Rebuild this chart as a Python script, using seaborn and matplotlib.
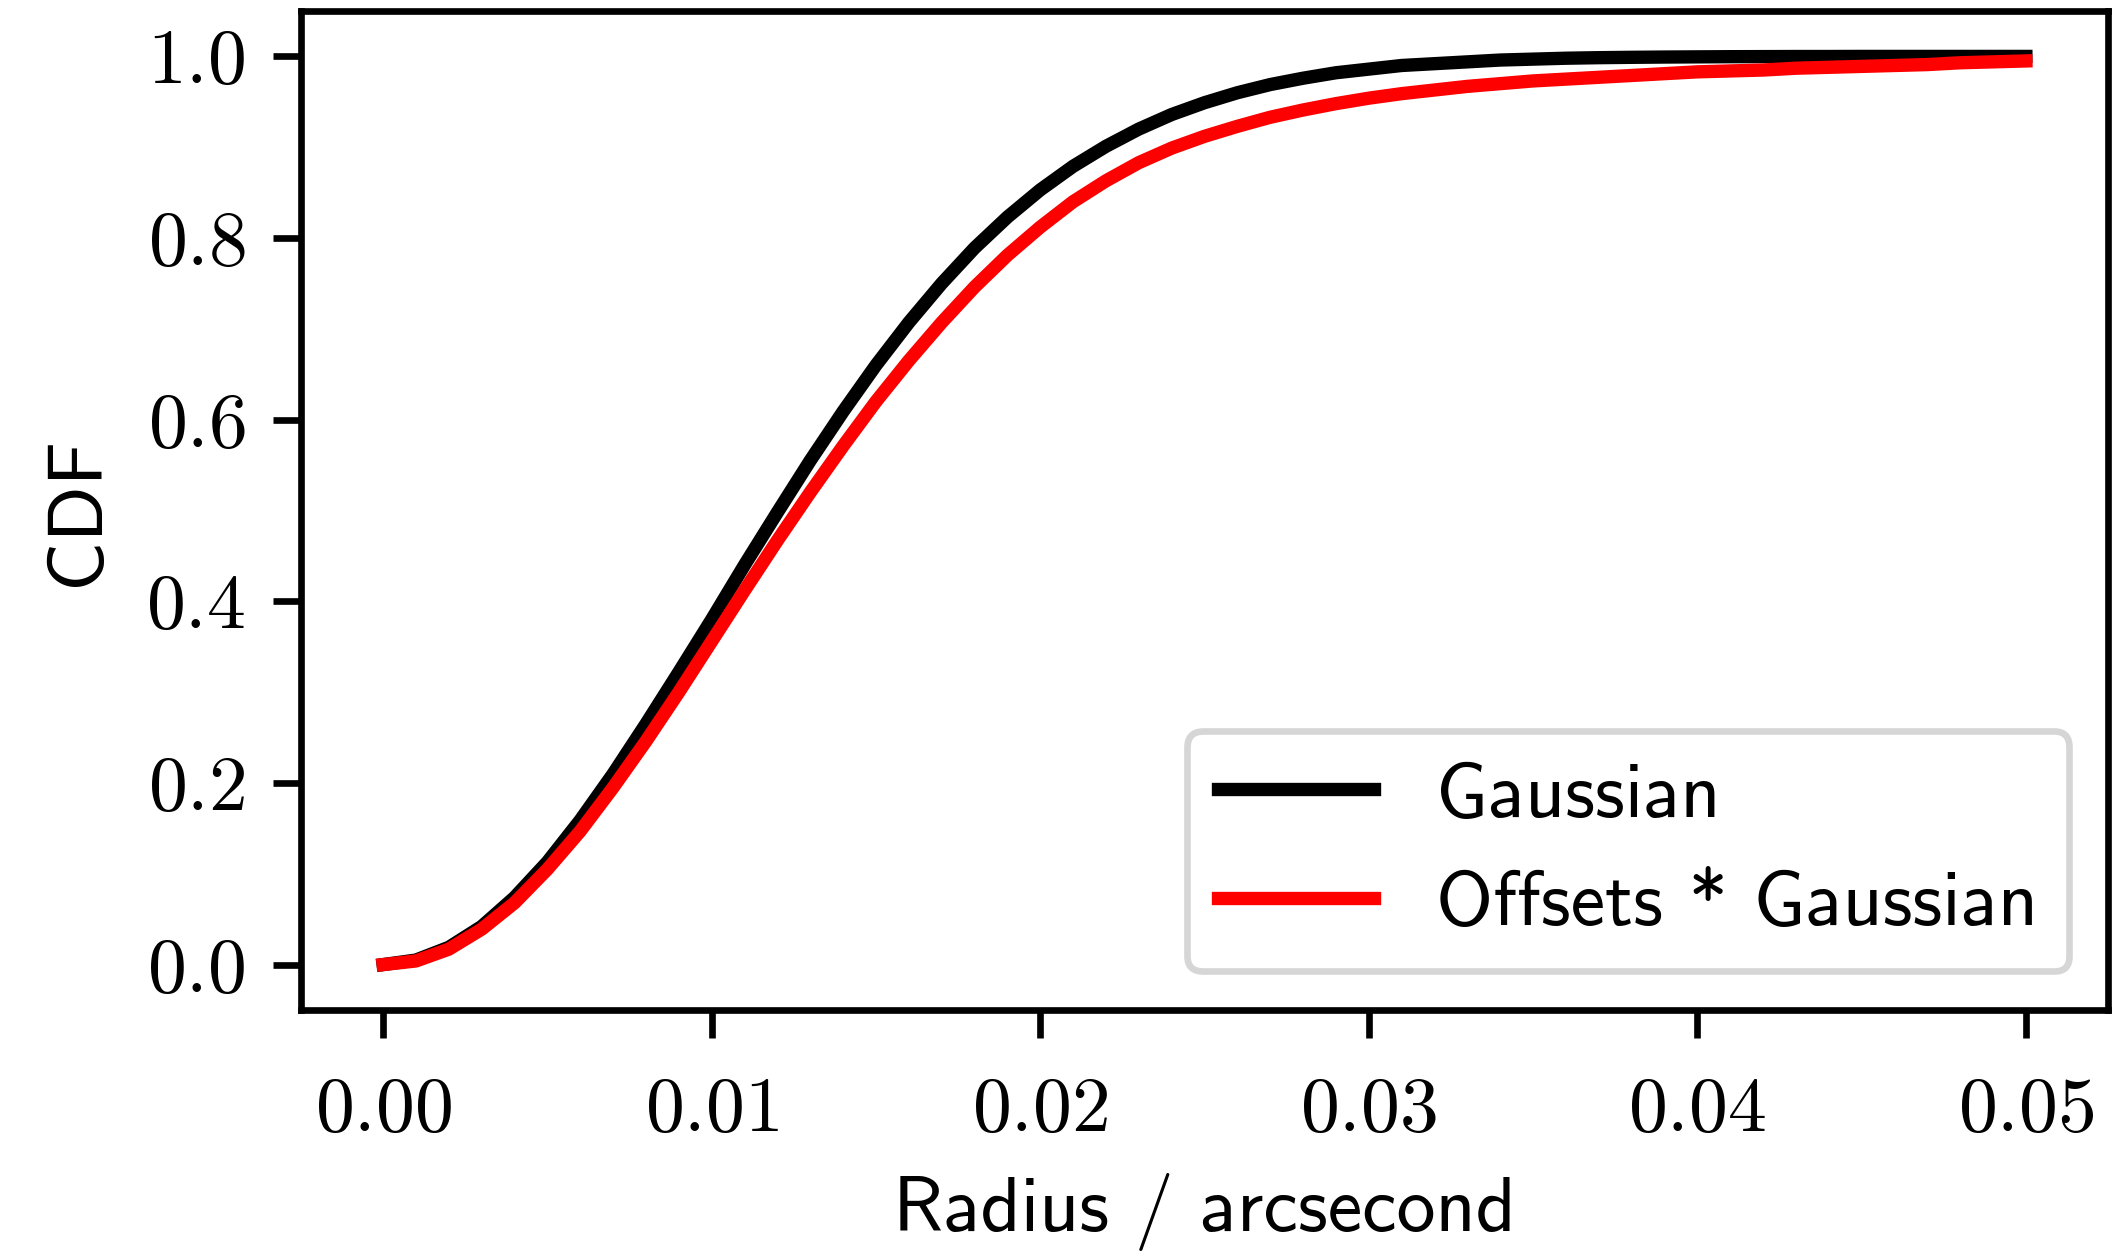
import numpy as np
import pandas as pd
import matplotlib
matplotlib.use("Agg")
import matplotlib.pyplot as plt
from matplotlib.ticker import FuncFormatter
import seaborn as sns

# Radius grid (arcsecond)
radius = [0.000, 0.001, 0.002, 0.003, 0.004, 0.005, 0.006, 0.007, 0.008, 0.009,
          0.010, 0.011, 0.012, 0.013, 0.014, 0.015, 0.016, 0.017, 0.018, 0.019,
          0.020, 0.021, 0.022, 0.023, 0.024, 0.025, 0.026, 0.027, 0.028, 0.029,
          0.030, 0.031, 0.032, 0.033, 0.034, 0.035, 0.036, 0.037, 0.038, 0.039,
          0.040, 0.041, 0.042, 0.043, 0.044, 0.045, 0.046, 0.047, 0.048, 0.049,
          0.050]

cdf_gaussian = [0.000, 0.005, 0.019, 0.042, 0.074, 0.113, 0.159, 0.210, 0.265, 0.322,
                0.380, 0.440, 0.498, 0.555, 0.609, 0.660, 0.707, 0.750, 0.789, 0.823,
                0.853, 0.879, 0.901, 0.920, 0.936, 0.949, 0.960, 0.969, 0.976, 0.982,
                0.986, 0.990, 0.992, 0.994, 0.996, 0.997, 0.998, 0.9986, 0.999, 0.9993,
                0.9995, 0.9997, 0.9998, 0.9999, 0.9999, 1.000, 1.000, 1.000, 1.000, 1.000,
                1.000]

cdf_offsets = [0.000, 0.004, 0.017, 0.039, 0.068, 0.105, 0.147, 0.195, 0.246, 0.300,
               0.356, 0.412, 0.467, 0.520, 0.571, 0.620, 0.665, 0.707, 0.746, 0.781,
               0.812, 0.840, 0.863, 0.883, 0.899, 0.912, 0.923, 0.933, 0.941, 0.948,
               0.954, 0.959, 0.963, 0.967, 0.970, 0.973, 0.975, 0.977, 0.979, 0.981,
               0.983, 0.984, 0.985, 0.987, 0.988, 0.989, 0.990, 0.991, 0.993, 0.994,
               0.995]

series_names = ["Gaussian", "Offsets * Gaussian"]
series_colors = ["black", "red"]
x_ticks = [0.00, 0.01, 0.02, 0.03, 0.04, 0.05]
y_ticks = [0.0, 0.2, 0.4, 0.6, 0.8, 1.0]

plt.rcParams["mathtext.fontset"] = "cm"
plt.rcParams["font.family"] = ["cmss10", "DejaVu Sans"]
plt.rcParams["axes.unicode_minus"] = False
plt.rcParams["font.size"] = 14

df = pd.DataFrame({
    "radius": radius * 2,
    "cdf": cdf_gaussian + cdf_offsets,
    "model": [series_names[0]] * len(radius) + [series_names[1]] * len(radius),
})

fig = plt.figure(figsize=(2126 / 400, 1253 / 400), dpi=400)
ax = fig.add_axes([301 / 2126, 1 - 1010 / 1253, (2108 - 301) / 2126, (1010 - 11) / 1253])

sns.lineplot(data=df, x="radius", y="cdf", hue="model", hue_order=series_names,
             palette=series_colors, linewidth=2.4, ax=ax)

ax.set_xlim(-0.0025, 0.0525)
ax.set_ylim(-0.05, 1.05)
ax.set_xticks(x_ticks)
ax.set_yticks(y_ticks)
ax.xaxis.set_major_formatter(FuncFormatter(lambda v, p: r"$%.2f$" % v))
ax.yaxis.set_major_formatter(FuncFormatter(lambda v, p: r"$%.1f$" % v))
ax.tick_params(axis="both", labelsize=14, length=5, width=1.2)
ax.tick_params(axis="x", pad=7)
ax.tick_params(axis="y", pad=5)
for s in ax.spines.values():
    s.set_linewidth(1.2)

ax.set_xlabel("Radius / arcsecond", fontsize=14, labelpad=5)
ax.set_ylabel("CDF", fontsize=14, labelpad=6)

leg = ax.legend(loc="lower right", fontsize=14, handlelength=2.0, frameon=True)
leg.get_frame().set_edgecolor("0.8")
leg.get_frame().set_linewidth(1.2)
for h in leg.get_lines():
    h.set_linewidth(2.4)

fig.savefig("out.png", dpi=400)
